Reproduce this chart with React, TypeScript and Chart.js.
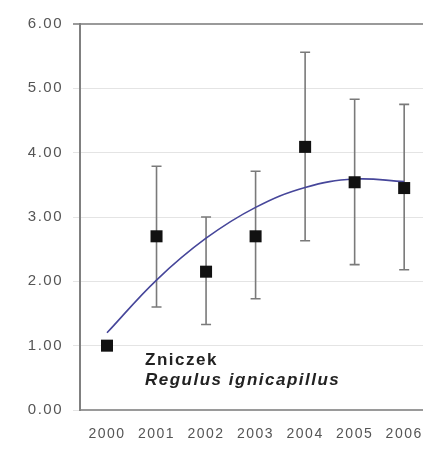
import React, { useEffect, useRef } from "react";
import { Chart, registerables } from "chart.js";

Chart.register(...registerables);

const years = [2000, 2001, 2002, 2003, 2004, 2005, 2006];
const means = [1.0, 2.7, 2.15, 2.7, 4.09, 3.54, 3.45];
const upper = [1.0, 3.79, 3.0, 3.71, 5.56, 4.83, 4.75];
const lower = [1.0, 1.6, 1.33, 1.73, 2.63, 2.26, 2.18];
const trend = [1.2, 2.02, 2.67, 3.15, 3.46, 3.59, 3.55];
const yTicks = [0, 1, 2, 3, 4, 5, 6];
const noteLines = ["Zniczek", "Regulus ignicapillus"];

const FONT = "'Liberation Sans', Arial, sans-serif";

const spacingPlugin = {
  id: "spacing",
  beforeUpdate(chart: any) {
    chart.ctx.letterSpacing = "1.5px";
  },
  beforeDraw(chart: any) {
    chart.ctx.letterSpacing = "1.5px";
  },
};

const errorBarPlugin = {
  id: "errorBars",
  beforeDatasetsDraw(chart: any) {
    const { ctx, scales } = chart;
    const xs = scales.x;
    const ys = scales.y;
    ctx.save();
    ctx.strokeStyle = "#7a7a7a";
    ctx.lineWidth = 1.6;
    const cap = 5;
    years.forEach((yr, i) => {
      if (upper[i] === lower[i]) return;
      const x = xs.getPixelForValue(yr);
      const yt = ys.getPixelForValue(upper[i]);
      const yb = ys.getPixelForValue(lower[i]);
      ctx.beginPath();
      ctx.moveTo(x, yt);
      ctx.lineTo(x, yb);
      ctx.moveTo(x - cap, yt);
      ctx.lineTo(x + cap, yt);
      ctx.moveTo(x - cap, yb);
      ctx.lineTo(x + cap, yb);
      ctx.stroke();
    });
    ctx.restore();
  },
};

const notePlugin = {
  id: "note",
  afterDatasetsDraw(chart: any) {
    const { ctx, chartArea } = chart;
    ctx.save();
    ctx.letterSpacing = "1.5px";
    ctx.fillStyle = "#222";
    ctx.textBaseline = "alphabetic";
    ctx.textAlign = "left";
    const x = chartArea.left + 65;
    ctx.font = `bold 17px ${FONT}`;
    ctx.fillText(noteLines[0], x, chartArea.bottom - 45);
    ctx.font = `italic bold 17px ${FONT}`;
    ctx.fillText(noteLines[1], x, chartArea.bottom - 25);
    ctx.restore();
  },
};

export default function App() {
  const ref = useRef<HTMLCanvasElement>(null);

  useEffect(() => {
    if (!ref.current) return;
    const chart = new Chart(ref.current, {
      type: "line",
      data: {
        datasets: [
          {
            label: "Średnia",
            data: years.map((x, i) => ({ x, y: means[i] })),
            showLine: false,
            pointStyle: "rect",
            pointRadius: 8.5,
            pointBackgroundColor: "#111",
            pointBorderColor: "#111",
            pointBorderWidth: 0,
            order: 0,
          },
          {
            label: "Trend",
            data: years.map((x, i) => ({ x, y: trend[i] })),
            borderColor: "#46469a",
            borderWidth: 1.6,
            pointRadius: 0,
            tension: 0.4,
            fill: false,
            order: 1,
          },
        ],
      },
      options: {
        responsive: false,
        animation: false,
        layout: { autoPadding: false, padding: { top: 24, left: 0, right: 0, bottom: 0 } },
        plugins: {
          legend: { display: false },
          tooltip: { enabled: false },
        },
        scales: {
          x: {
            type: "linear",
            min: 1999.455,
            max: 2006.38,
            afterFit: (s: any) => {
              s.height = 44;
              s.paddingRight = 0;
              s.paddingLeft = 0;
            },
            ticks: {
              stepSize: 1,
              includeBounds: false,
              autoSkip: false,
              maxRotation: 0,
              padding: 16,
              color: "#555",
              font: { family: FONT, size: 14 },
              callback: (v: any) => String(v),
            },
            grid: { display: false, drawTicks: false },
            border: { display: true, color: "#9a9a9a", width: 2 },
          },
          y: {
            min: 0,
            max: 6,
            afterFit: (s: any) => {
              s.width = 80;
            },
            afterBuildTicks: (s: any) => {
              s.ticks = yTicks.map((v) => ({ value: v }));
            },
            ticks: {
              padding: 10,
              color: "#555",
              font: { family: FONT, size: 15 },
              callback: (v: any) => Number(v).toFixed(2),
            },
            grid: {
              color: (c: any) => (c.tick && c.tick.value === 6 ? "#9a9a9a" : "#e4e4e4"),
              lineWidth: (c: any) => (c.tick && c.tick.value === 6 ? 2 : 1),
              tickLength: 7,
              drawTicks: true,
            },
            border: { display: true, color: "#808080", width: 2 },
          },
        },
      },
      plugins: [spacingPlugin, errorBarPlugin, notePlugin],
    } as any);
    return () => chart.destroy();
  }, []);

  return (
    <div style={{ position: "fixed", left: 0, top: 0, width: 423, height: 454, background: "#fff" }}>
      <canvas ref={ref} width={423} height={454} style={{ display: "block" }} />
    </div>
  );
}
